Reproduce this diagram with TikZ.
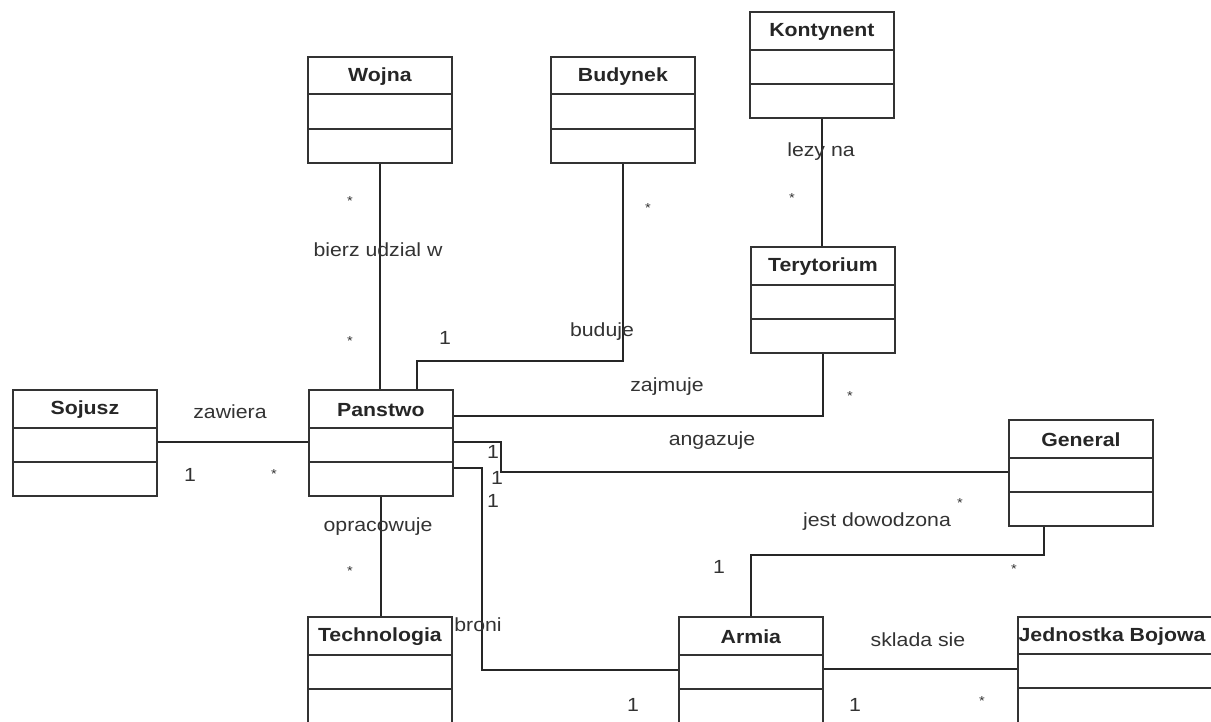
\documentclass[tikz,border=0pt]{standalone}
\usepackage{fontspec}
\setmainfont{Liberation Sans}[FakeStretch=1.12]
\begin{document}
\begin{tikzpicture}[x=1pt,y=-1pt,
  umlbox/.style={draw=black!80, line width=1.8pt, rectangle, minimum width=144pt, minimum height=106pt, anchor=north west, inner sep=0pt},
  ttl/.style={font=\fontsize{19}{21}\selectfont\bfseries, text=black!85, inner sep=0pt},
  lbl/.style={font=\fontsize{19}{21}\selectfont, text=black!80, inner sep=0pt},
  star/.style={font=\fontsize{13}{15}\selectfont, text=black!80, inner sep=0pt},
  conn/.style={draw=black!85, line width=1.5pt},
  divl/.style={draw=black!80, line width=1.8pt}]
\fill[white] (0,0) rectangle (1211,721);
\useasboundingbox (0,0) rectangle (1211,721);
\clip (0,0) rectangle (1211,721);

\newcommand{\umlclass}[5]{%
  \node[umlbox] (#1) at (#2,#3) {};
  \node[ttl] (#1t) at ([yshift=-21pt]#1.north) {#4};
  \draw[divl] ([yshift=-#5pt]#1.north west) -- ([yshift=-#5pt]#1.north east);
  \draw[divl] ([yshift=-73pt]#1.north west) -- ([yshift=-73pt]#1.north east);
}
\umlclass{wojna}{307}{56}{Wojna}{38}
\umlclass{budynek}{550}{56}{Budynek}{38}
\umlclass{kontynent}{749}{11}{Kontynent}{39}
\umlclass{terytorium}{750}{246}{Terytorium}{39}
\umlclass{sojusz}{12}{389}{Sojusz}{39}
\umlclass{panstwo}{308}{389}{Panstwo}{39}
\umlclass{general}{1008}{419}{General}{39}
\umlclass{technologia}{307}{616}{Technologia}{39}
\umlclass{armia}{678}{616}{Armia}{39}
\node[umlbox, minimum width=200pt] (jednostka) at (1017,616) {};
\node[ttl] (jednostkat) at (1112,637) {Jednostka Bojowa};
\draw[divl] ([yshift=-38pt]jednostka.north west) -- ([yshift=-38pt]jednostka.north east);
\draw[divl] ([yshift=-72pt]jednostka.north west) -- ([yshift=-72pt]jednostka.north east);

% connectors
\draw[conn] (wojna.south) -- (wojna.south |- panstwo.north);
\draw[conn] ([xshift=36pt]panstwo.north) -- ++(0,-28) -| (budynek.south);
\draw[conn] (kontynent.south) -- (kontynent.south |- terytorium.north);
\draw[conn] ([yshift=-27pt]panstwo.north east) -| (terytorium.south);
\draw[conn] ([yshift=-53pt]sojusz.north east) -- ([yshift=-53pt]panstwo.north west);
\draw[conn] ([yshift=-53pt]panstwo.north east) -- ++(47,0) |- ([yshift=-53pt]general.north west);
\draw[conn] ([yshift=-79pt]panstwo.north east) -- ++(28,0) |- ([yshift=-54pt]armia.north west);
\draw[conn] (panstwo.south) -- (panstwo.south |- technologia.north);
\draw[conn] ([xshift=-37pt]general.south) -- ++(0,28) -| (armia.north);
\draw[conn] ([yshift=-53pt]armia.north east) -- ([yshift=-53pt]jednostka.north west);

% labels
\node[lbl] (l1) at (378,250) {bierz udzial w};
\node[star] (l2) at (350,201) {*};
\node[star] (l3) at (350,341) {*};
\node[lbl] (l4) at (445,338) {1};
\node[star] (l5) at (648,208) {*};
\node[lbl] (l6) at (602,332) {buduje};
\node[lbl] (l7) at (821,152) {lezy na};
\node[star] (l8) at (792,198) {*};
\node[lbl] (l9) at (667,387) {zajmuje};
\node[star] (l10) at (850,396) {*};
\node[lbl] (l11) at (230,412) {zawiera};
\node[lbl] (l12) at (190,475) {1};
\node[star] (l13) at (274,474) {*};
\node[lbl] (l14) at (712,441) {angazuje};
\node[lbl] (l15) at (493,452) {1};
\node[lbl] (l16) at (497,478) {1};
\node[lbl] (l17) at (493,501) {1};
\node[lbl] (l18) at (378,527) {opracowuje};
\node[star] (l19) at (350,571) {*};
\node[lbl] (l20) at (877,522) {jest dowodzona};
\node[star] (l21) at (960,503) {*};
\node[star] (l22) at (1014,569) {*};
\node[lbl] (l23) at (719,567) {1};
\node[lbl] (l24) at (478,625) {broni};
\node[lbl] (l25) at (633,705) {1};
\node[lbl] (l26) at (855,705) {1};
\node[star] (l27) at (982,701) {*};
\node[lbl] (l28) at (918,640) {sklada sie};
\end{tikzpicture}
\end{document}
